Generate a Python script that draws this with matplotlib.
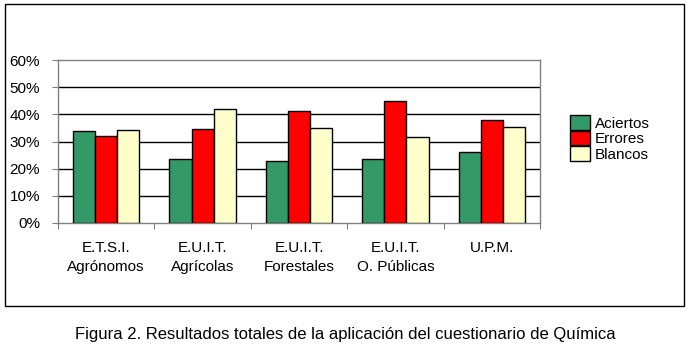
import numpy as np
import matplotlib.pyplot as plt
from matplotlib.patches import Rectangle
from matplotlib.ticker import PercentFormatter

# ---- DATA ----
schools = ["E.T.S.I.\nAgrónomos", "E.U.I.T.\nAgrícolas", "E.U.I.T.\nForestales",
           "E.U.I.T.\nO. Públicas", "U.P.M."]
aciertos = [33.7, 23.5, 23.0, 23.5, 26.0]
errores = [32.2, 34.5, 41.3, 45.0, 38.0]
blancos = [34.1, 42.1, 35.1, 31.5, 35.5]
series_names = ["Aciertos", "Errores", "Blancos"]
caption = "Figura 2. Resultados totales de la aplicación del cuestionario de Química"

plt.rcParams["font.family"] = ["Liberation Sans", "DejaVu Sans"]

W, H = 689, 347
fig = plt.figure(figsize=(W / 100, H / 100), dpi=100)
fig.patch.set_facecolor("white")

# outer frame
fig.patches.append(Rectangle((5 / W, 1 - 306 / H), 679 / W, 302 / H,
                             transform=fig.transFigure, fill=False,
                             edgecolor="black", linewidth=1))

ax = fig.add_axes([58 / W, 1 - 223 / H, 482 / W, 163 / H])

colors = ["#339966", "#ff0000", "#ffffcc"]
x = np.arange(len(schools))
bw = 0.23
for k, (vals, c, name) in enumerate(zip([aciertos, errores, blancos], colors, series_names)):
    ax.bar(x + (k - 1) * bw, vals, width=bw, color=c, edgecolor="black",
           linewidth=1, label=name, zorder=3)

ax.set_xlim(-0.5, len(schools) - 0.5)
ax.set_ylim(0, 60)
ax.set_yticks(np.arange(0, 61, 10))
ax.yaxis.set_major_formatter(PercentFormatter(decimals=0))
for yv in range(10, 60, 10):
    ax.axhline(yv, color="black", linewidth=1, zorder=1)

ax.set_xticks(np.arange(-0.5, len(schools), 1))
ax.set_xticklabels([])
ax.set_xticks(x, minor=True)
ax.set_xticklabels(schools, minor=True, fontsize=11, linespacing=1.45)
ax.tick_params(axis="x", which="minor", length=0, pad=13)
ax.tick_params(axis="x", which="major", length=4, color="#808080")
ax.tick_params(axis="y", length=4, color="#808080", labelsize=11, pad=9)
for s in ax.spines.values():
    s.set_color("#808080")
    s.set_linewidth(1)

leg = ax.legend(loc="upper left", bbox_to_anchor=(570 / W, 1 - 115 / H),
                bbox_transform=fig.transFigure, frameon=False, fontsize=11,
                labelspacing=0.0, handlelength=1.3, handleheight=1.1,
                handletextpad=0.35, borderpad=0, borderaxespad=0)
for h in leg.legend_handles:
    h.set_edgecolor("black")

fig.text(345 / W, 1 - 335 / H, caption, ha="center", va="center", fontsize=12)

fig.savefig("out.png", dpi=100)
